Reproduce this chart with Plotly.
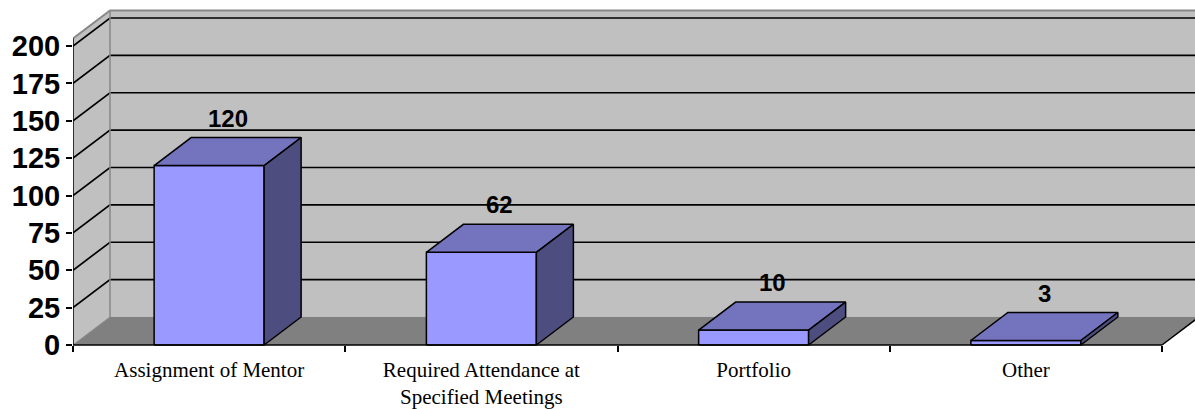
import plotly.graph_objects as go

# Survey responses by requirement type
categories = ["Assignment of Mentor", "Required Attendance at<br>Specified Meetings",
              "Portfolio", "Other"]
counts = [120, 62, 10, 3]
y_ticks = [0, 25, 50, 75, 100, 125, 150, 175, 200]

# Pseudo-3D geometry (in axis units)
PX_PER_CAT = 272.25
PX_PER_UNIT = 1.495
DX = 37 / PX_PER_CAT          # depth offset to the right
DY = 28 / PX_PER_UNIT         # depth offset upwards
BAR_W = 110 / PX_PER_CAT
WALL_TOP = 205
N = len(categories)

FRONT = "#9999FF"
TOP = "#7373BE"
SIDE = "#4D4D80"
WALL = "#C0C0C0"
FLOOR = "#808080"
EDGE = "#888888"

fig = go.Figure()


def poly(xs, ys, fill, line_color="black", width=1.5):
    fig.add_trace(go.Scatter(
        x=xs + [xs[0]], y=ys + [ys[0]], mode="lines", fill="toself",
        fillcolor=fill, line=dict(color=line_color, width=width),
        hoverinfo="skip", showlegend=False))


def path(xs, ys, color, width):
    fig.add_trace(go.Scatter(
        x=xs, y=ys, mode="lines", line=dict(color=color, width=width),
        hoverinfo="skip", showlegend=False))


# walls and floor
poly([0, DX, DX, 0], [0, DY, WALL_TOP + DY, WALL_TOP], WALL, WALL, 0.1)
poly([DX, N + DX, N + DX, DX], [DY, DY, WALL_TOP + DY, WALL_TOP + DY], WALL, WALL, 0.1)
poly([0, N, N + DX, DX], [0, 0, DY, DY], FLOOR, FLOOR, 0.1)

# gridlines on left and back walls
gx, gy = [], []
for v in y_ticks[1:]:
    gx += [0, DX, N + DX + 0.5, None]
    gy += [v, v + DY, v + DY, None]
path(gx, gy, "black", 1.7)

# wall edges
path([0, DX, N + DX + 0.5], [WALL_TOP, WALL_TOP + DY, WALL_TOP + DY], EDGE, 2)
path([DX, DX], [DY, WALL_TOP + DY], EDGE, 1.5)
path([0, DX], [0, DY], EDGE, 1)
path([N, N + DX], [0, DY], "black", 1.5)

# bars: front face, top, right side
for i, v in enumerate(counts):
    c = i + 0.5
    x0, x1 = c - BAR_W / 2, c + BAR_W / 2
    poly([x0, x1, x1, x0], [0, 0, v, v], FRONT)
    poly([x0, x1, x1 + DX, x0 + DX], [v, v, v + DY, v + DY], TOP)
    poly([x1, x1 + DX, x1 + DX, x1], [0, DY, v + DY, v], SIDE)
    fig.add_annotation(x=c + DX / 2, y=v + DY, text=str(v), showarrow=False,
                       yanchor="bottom", yshift=4,
                       font=dict(family="Liberation Sans, Arial", size=24,
                                 color="black", weight="bold"))

# axis lines
path([0, 0], [0, WALL_TOP], "black", 1.5)
path([0, N], [0, 0], "black", 1.7)

x_max = (1195 - 73) / PX_PER_CAT
y_top = 345 / PX_PER_UNIT
y_bot = -(409 - 345) / PX_PER_UNIT

fig.update_layout(
    width=1195, height=409,
    margin=dict(l=73, r=0, t=0, b=0, autoexpand=False),
    paper_bgcolor="white", plot_bgcolor="white",
    xaxis=dict(
        range=[0, x_max], showgrid=False, zeroline=False, showline=False,
        automargin=False,
        anchor="free", position=(409 - 345) / 409,
        tickvals=[i + 0.5 for i in range(N)], ticktext=categories, ticks="",
        tickfont=dict(family="Liberation Serif, Times New Roman", size=21, color="black"),
        ticklabelstandoff=10,
        minor=dict(tickvals=list(range(N + 1)), ticks="outside", ticklen=6,
                   tickwidth=1.5, tickcolor="black"),
    ),
    yaxis=dict(
        range=[y_bot, y_top], showgrid=False, zeroline=False, showline=False,
        automargin=False,
        tickvals=y_ticks, ticks="outside", ticklen=6, tickwidth=1.5,
        tickcolor="black",
        tickfont=dict(family="Liberation Sans, Arial", size=29, color="black",
                      weight="bold"),
    ),
)

fig.write_html("out.html")
